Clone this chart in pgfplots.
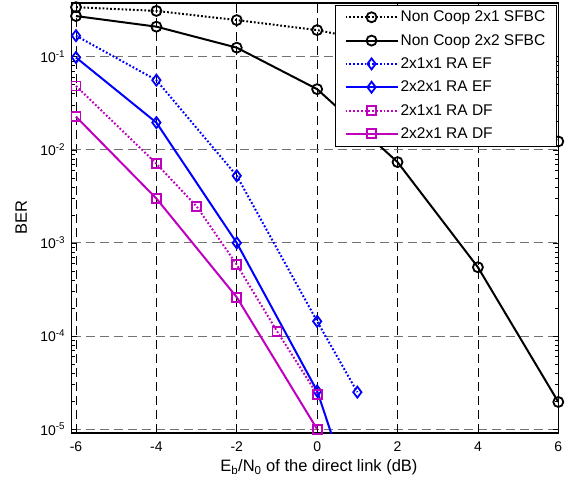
\documentclass[border=0pt]{standalone}
\usepackage{pgfplots}
\pgfplotsset{compat=1.18}
\usepackage{fontspec}
\setmainfont{Liberation Sans}
\definecolor{mag}{RGB}{191,0,191}
\begin{document}
\begin{tikzpicture}
\begin{axis}[
  at={(0,0)}, anchor=south west,
  scale only axis, width=486.6pt, height=430pt,
  xmin=-6.107, xmax=6,
  ymode=log, ymin=9.1e-6, ymax=0.377,
  xtick={-6,-4,-2,0,2,4,6},
  xticklabels={-6,-4,-2,0,2,4,6},
  ytick={1e-5,1e-4,1e-3,1e-2,1e-1},
  yticklabels={10\textsuperscript{-5},10\textsuperscript{-4},10\textsuperscript{-3},10\textsuperscript{-2},10\textsuperscript{-1}},
  tick label style={font=\fontsize{14}{16}\selectfont},
  xticklabel style={anchor=base, yshift=-18pt},
  yticklabel style={xshift=-3pt},
  label style={font=\fontsize{16.5}{18}\selectfont},
  xlabel={E\textsubscript{b}/N\textsubscript{0} of the direct link (dB)},
  ylabel={BER},
  xlabel style={at={(axis description cs:0.508,0)}, anchor=base, yshift=-38.7pt},
  ylabel style={at={(axis description cs:-0.0919,0.5)}, anchor=base},
  tick align=inside,
  major tick length=5pt, minor tick length=3pt,
  axis line style={line width=1.2pt},
  every tick/.style={black, line width=0.6pt},
  grid=major,
  x grid style={black, dash pattern=on 9pt off 5pt, line width=0.8pt},
  y grid style={black!55, dash pattern=on 9pt off 5pt, line width=1pt},
  legend style={at={(1,1)}, anchor=north east, xshift=-1.6pt, yshift=-1.7pt,
    draw=black, line width=0.8pt, fill=white,
    font=\fontsize{15.5}{17}\selectfont, row sep=7pt,
    inner xsep=9pt, inner ysep=4pt, cells={anchor=west}},
  legend image code/.code={\draw[mark repeat=2,mark phase=2] plot coordinates {(0pt,0pt) (26pt,0pt) (52pt,0pt)};},
  clip=true,
]
\addplot[black, line width=2pt, dash pattern=on 1.8pt off 2pt, mark=o, mark size=5pt, mark options={solid, line width=1.8pt}] coordinates {
  (-6,0.34) (-4,0.31) (-2,0.247) (0,0.193) (2,0.13) (4,0.055) (6,0.0123)};
\addlegendentry{Non Coop 2x1 SFBC}
\addplot[black, line width=2pt, solid, mark=o, mark size=5pt, mark options={solid, line width=1.8pt}] coordinates {
  (-6,0.273) (-4,0.21) (-2,0.125) (0,0.0448) (2,0.00738) (4,5.48e-4) (6,1.96e-5)};
\addlegendentry{Non Coop 2x2 SFBC}
\addplot[blue, line width=2pt, dash pattern=on 1.8pt off 2pt, mark=diamond, mark size=5.5pt, mark options={solid, line width=1.8pt}] coordinates {
  (-6,0.168) (-4,0.056) (-2,0.00526) (0,1.44e-4) (1,2.5e-5)};
\addlegendentry{2x1x1 RA EF}
\addplot[blue, line width=2pt, solid, mark=diamond, mark size=5.5pt, mark options={solid, line width=1.8pt}] coordinates {
  (-6,0.098) (-4,0.0196) (-2,1.0e-3) (0,2.57e-5) (1,1.3e-6)};
\addlegendentry{2x2x1 RA EF}
\addplot[mag, line width=2pt, dash pattern=on 1.8pt off 2pt, mark=square, mark size=4.5pt, mark options={solid, line width=1.8pt}] coordinates {
  (-6,0.0485) (-4,0.0071) (-3,0.00247) (-2,5.85e-4) (-1,1.13e-4) (0,2.37e-5)};
\addlegendentry{2x1x1 RA DF}
\addplot[mag, line width=2pt, solid, mark=square, mark size=4.5pt, mark options={solid, line width=1.8pt}] coordinates {
  (-6,0.0227) (-4,0.0030) (-2,2.61e-4) (0,1.0e-5)};
\addlegendentry{2x2x1 RA DF}
\end{axis}
\pgfresetboundingbox
\useasboundingbox (-71.7pt,-49pt) rectangle (496.3pt,433pt);
\end{tikzpicture}
\end{document}
